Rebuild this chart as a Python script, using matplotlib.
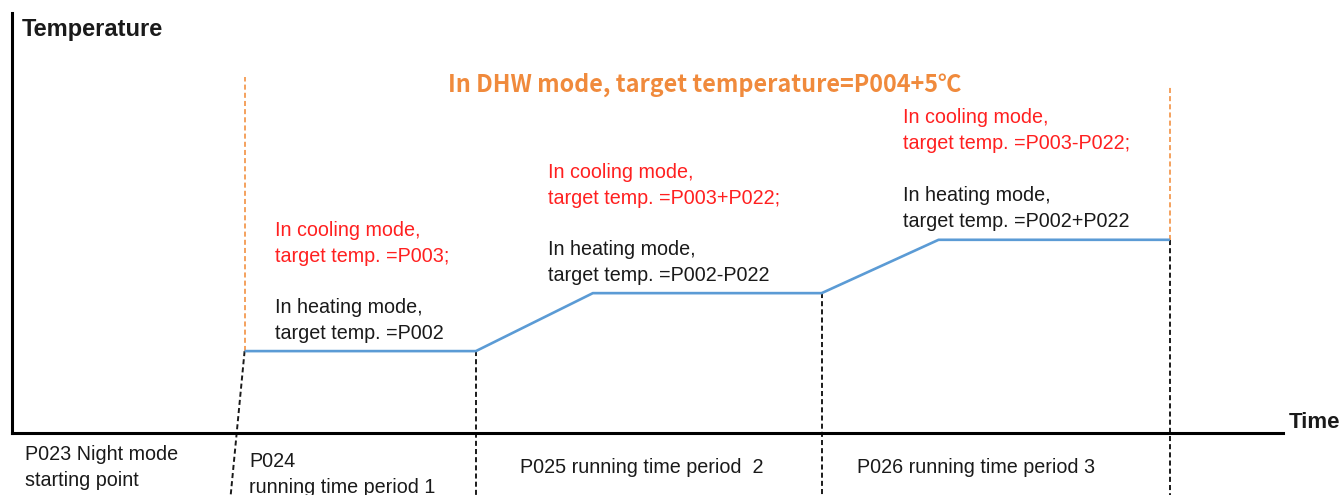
import matplotlib
matplotlib.use("Agg")
import matplotlib.pyplot as plt

W, H = 1344, 495

# night mode schedule: time breakpoints and target temperature level (relative units)
time_pts = [18.3, 36.5, 45.7, 63.7, 72.9, 91.1]
temp_pts = [19.5, 19.5, 33.3, 33.3, 46.0, 46.0]
dhw_top = [84.8, 82.9]

period_labels = [
    "P023 Night mode\nstarting point",
    "P024\nrunning time period 1",
    "P025 running time period  2",
    "P026 running time period 3",
]
cooling_labels = [
    "In cooling mode,\ntarget temp. =P003;",
    "In cooling mode,\ntarget temp. =P003+P022;",
    "In cooling mode,\ntarget temp. =P003-P022;",
]
heating_labels = [
    "In heating mode,\ntarget temp. =P002",
    "In heating mode,\ntarget temp. =P002-P022",
    "In heating mode,\ntarget temp. =P002+P022",
]
dhw_label = "In DHW mode, target temperature=P004+5\u2103"

plt.rcParams["font.family"] = ["Liberation Sans", "DejaVu Sans"]

fig = plt.figure(figsize=(W / 100, H / 100), dpi=100)
ax = fig.add_axes([12 / W, (H - 433) / H, (1283 - 12) / W, (433 - 13) / H])
ax.set_xlim(0, 100)
ax.set_ylim(0, 100)
ax.patch.set_alpha(0)
for side in ["top", "right"]:
    ax.spines[side].set_visible(False)
ax.spines["left"].set_linewidth(2.2)
ax.spines["bottom"].set_linewidth(2.2)
ax.set_xticks([])
ax.set_yticks([])

blue = "#5b9bd5"
orange = "#f4a15d"
red = "#ff2020"
dark = "#1a1a1a"

ax.plot(time_pts, temp_pts, color=blue, lw=1.9, solid_capstyle="butt", zorder=3)

# period boundaries, dropping below the time axis
ybottom = -15
dash = dict(color=dark, lw=1.4, ls=(0, (2.6, 1.6)), clip_on=False, zorder=2)
ax.plot([time_pts[0], 17.2], [temp_pts[0], ybottom], **dash)
for i in (1, 3, 5):
    ax.plot([time_pts[i], time_pts[i]], [temp_pts[i], ybottom], **dash)

# DHW limits
odash = dict(color=orange, lw=1.4, ls=(0, (2.6, 1.6)), zorder=2)
ax.plot([time_pts[0], time_pts[0]], [temp_pts[0], dhw_top[0]], **odash)
ax.plot([time_pts[5], time_pts[5]], [temp_pts[5], dhw_top[1]], **odash)


def put(x, y, s, step=26, **kw):
    # one text line per baseline, stepping down in pixels
    for k, line in enumerate(s.split("\n")):
        fig.text(x / W, 1 - (y + k * step) / H, line, va="baseline", **kw)


fs = 14.2
put(22, 36, "Temperature", fontsize=17, fontweight="bold", color=dark)
put(1289, 428, "Time", fontsize=16, fontweight="bold", color=dark)
put(705, 92, dhw_label, fontsize=16.8, fontweight="bold", color="#f08a3c",
    ha="center", family=["Noto Sans CJK SC", "DejaVu Sans"])

for x, yc, yh, c, h in zip([275, 548, 903], [236, 178, 123], [313, 255, 201],
                           cooling_labels, heating_labels):
    put(x, yc, c, fontsize=fs, color=red)
    put(x, yh, h, fontsize=fs, color=dark)

for (x, y), lab in zip([(25, 460), (249, 467), (520, 473), (857, 473)], period_labels):
    put(x, y, lab, fontsize=fs, color=dark)

fig.savefig("out.png", dpi=100)
